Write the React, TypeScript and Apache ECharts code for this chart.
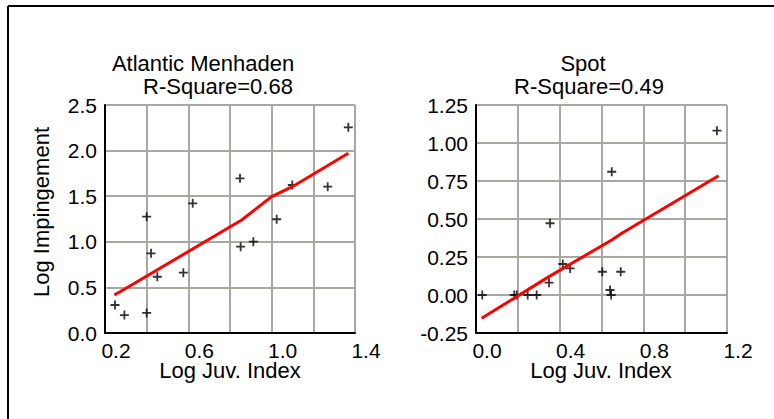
import React, { useEffect, useRef } from "react";
import * as echarts from "echarts";

const menTitle = "Atlantic Menhaden";
const menR2 = "R-Square=0.68";
const spotTitle = "Spot";
const spotR2 = "R-Square=0.49";
const xName = "Log Juv. Index";
const yName = "Log Impingement";

const menX = [0.248, 0.293, 0.4, 0.4, 0.421, 0.451, 0.576, 0.621, 0.848, 0.851, 0.912, 1.024, 1.099, 1.269, 1.368];
const menY = [0.307, 0.197, 0.22, 1.275, 0.874, 0.617, 0.661, 1.422, 1.696, 0.946, 1.001, 1.247, 1.623, 1.604, 2.255];
const menFitX = [0.245, 0.293, 0.856, 1.0, 1.099, 1.368];
const menFitY = [0.417, 0.479, 1.239, 1.495, 1.604, 1.97];

const spotX = [0.03, 0.183, 0.195, 0.247, 0.29, 0.349, 0.354, 0.415, 0.45, 0.604, 0.641, 0.646, 0.649, 0.692, 1.152];
const spotY = [0.0, 0.0, 0.0, 0.0, 0.0, 0.081, 0.472, 0.204, 0.175, 0.153, 0.033, 0.0, 0.811, 0.153, 1.081];
const spotFitX = [0.027, 0.349, 0.649, 0.697, 1.16];
const spotFitY = [-0.153, 0.121, 0.362, 0.406, 0.785];

const menXLabels = [0.2, 0.6, 1.0, 1.4];
const spotXLabels = [0.0, 0.4, 0.8, 1.2];

const FONT = "Liberation Sans";
const GRIDC = "#a8a8a0";
const PLUS = "path://M-1,-5H1V-1H5V1H1V5H-1V1H-5V-1H-1Z";

function zip(a: number[], b: number[]) {
  return a.map((v, i) => [v, b[i]]);
}

function makeX(min: number, max: number, shown: number[], gridIndex: number) {
  return {
    type: "value",
    gridIndex,
    min,
    max,
    interval: 0.2,
    axisLine: { show: true, onZero: false, lineStyle: { color: "#000", width: 2 } },
    axisTick: { show: false },
    splitLine: { show: true, lineStyle: { color: GRIDC, width: 2 } },
    axisLabel: {
      color: "#000",
      fontFamily: FONT,
      fontSize: 21,
      lineHeight: 18,
      margin: 8,
      padding: [0, 0, 0, 22],
      formatter: (v: number) =>
        shown.some((s) => Math.abs(s - v) < 1e-6) ? v.toFixed(1) : "",
    },
  };
}

function makeY(min: number, max: number, interval: number, dec: number, pb: number, gridIndex: number) {
  return {
    type: "value",
    gridIndex,
    min,
    max,
    interval,
    axisLine: { show: true, onZero: false, lineStyle: { color: "#000", width: 2 } },
    axisTick: { show: false },
    splitLine: { show: true, lineStyle: { color: GRIDC, width: 2 } },
    axisLabel: {
      color: "#000",
      fontFamily: FONT,
      fontSize: 21,
      margin: 8,
      padding: [0, 0, pb, 0],
      formatter: (v: number) => v.toFixed(dec),
    },
  };
}

export default function App() {
  const ref = useRef<HTMLDivElement>(null);
  useEffect(() => {
    const chart = echarts.init(ref.current!, null, { renderer: "svg" });
    const txt = (x: number, y: number, text: string, rotation = 0) => ({
      type: "text",
      x,
      y,
      rotation,
      style: {
        text,
        fill: "#000",
        fontFamily: FONT,
        fontSize: 22,
        lineHeight: 20,
        align: "center",
        verticalAlign: "middle",
      },
    });
    chart.setOption({
      animation: false,
      grid: [
        { left: 105, top: 105, width: 250, height: 228 },
        { left: 476, top: 105, width: 251, height: 228 },
      ],
      xAxis: [makeX(0.2, 1.4, menXLabels, 0), makeX(0.0, 1.2, spotXLabels, 1)],
      yAxis: [makeY(0, 2.5, 0.5, 1, 9, 0), makeY(-0.25, 1.25, 0.25, 2, 4, 1)],
      series: [
        {
          type: "line",
          xAxisIndex: 0,
          yAxisIndex: 0,
          data: zip(menFitX, menFitY),
          showSymbol: false,
          lineStyle: { color: "#ff0000", width: 3 },
        },
        {
          type: "scatter",
          xAxisIndex: 0,
          yAxisIndex: 0,
          data: zip(menX, menY),
          symbol: PLUS,
          symbolSize: 9,
          itemStyle: { color: "#000" },
        },
        {
          type: "line",
          xAxisIndex: 1,
          yAxisIndex: 1,
          data: zip(spotFitX, spotFitY),
          showSymbol: false,
          lineStyle: { color: "#ff0000", width: 3 },
        },
        {
          type: "scatter",
          xAxisIndex: 1,
          yAxisIndex: 1,
          data: zip(spotX, spotY),
          symbol: PLUS,
          symbolSize: 9,
          itemStyle: { color: "#000" },
        },
      ],
      graphic: [
        { type: "line", shape: { x1: 8, y1: 6, x2: 774, y2: 6 }, style: { stroke: "#000", lineWidth: 2 } },
        { type: "line", shape: { x1: 8, y1: 6, x2: 8, y2: 419 }, style: { stroke: "#000", lineWidth: 2 } },
        txt(203, 63, menTitle),
        txt(218, 86, menR2),
        txt(583, 63, spotTitle),
        txt(589, 86, spotR2),
        txt(230, 370, xName),
        txt(601, 370, xName),
        txt(41, 212, yName, Math.PI / 2),
      ],
    });
    return () => chart.dispose();
  }, []);
  return (
    <div
      ref={ref}
      style={{ position: "fixed", left: 0, top: 0, width: 774, height: 419, background: "#fff" }}
    />
  );
}
